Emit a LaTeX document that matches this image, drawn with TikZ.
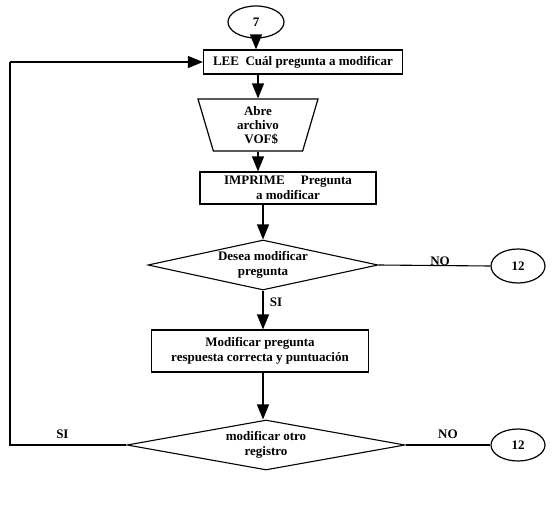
\documentclass[tikz,border=0pt]{standalone}
\usepackage{fontspec}
\setmainfont{Liberation Serif}
\usetikzlibrary{shapes,arrows.meta,positioning,calc}

\tikzset{
  flow/.style={line width=1.3pt,-{Triangle[length=15pt,width=12pt]}},
  link/.style={line width=1.1pt},
  conn/.style={ellipse,draw,line width=1.2pt,minimum width=56pt,minimum height=32pt,inner sep=0pt,font=\bfseries\fontsize{13}{15}\selectfont},
  proc/.style={rectangle,draw,line width=1.2pt,align=center,inner sep=2pt,font=\bfseries\fontsize{13}{14.5}\selectfont},
  decide/.style={diamond,draw,line width=1.1pt,aspect=4.6,inner sep=0pt,align=center,font=\bfseries\fontsize{13}{14.5}\selectfont},
  lbl/.style={font=\bfseries\fontsize{13}{15}\selectfont}
}

\begin{document}
\begin{tikzpicture}[x=1pt,y=-1pt]
      \useasboundingbox (0,0) rectangle (555,522);
      % start connector
      \node[conn] (c7) at (256,22) {7};
      \node[proc,minimum width=199pt,minimum height=24pt] (lee) at (303,62) {LEE\ \ Cuál pregunta a modificar};
      % file input
      \node[trapezium,draw,line width=1.2pt,trapezium stretches body,shape border rotate=180,
            trapezium angle=68,minimum width=120pt,minimum height=52pt,inner sep=0pt,
            align=center,font=\bfseries\fontsize{13}{14}\selectfont] (abre) at (258,125) {Abre\\archivo\\\ \ VOF\$};
      \node[proc,minimum width=176pt,minimum height=32pt] (imp) at (288,188) {IMPRIME\quad\ Pregunta\\a modificar};
      % first decision
      \node[decide,minimum width=230pt,minimum height=50pt] (d1) at (263,265) {Desea modificar\\pregunta};
      \node[conn,minimum width=54pt,minimum height=34pt] (c12a) at (518,266) {12};
      \node[proc,minimum width=217pt,minimum height=42pt] (mod) at (260,351) {Modificar pregunta\\respuesta correcta y puntuación};
      % second decision
      \node[decide,minimum width=278pt,minimum height=50pt] (d2) at (266,445) {modificar otro\\registro};
      \node[conn,minimum width=54pt,minimum height=32pt] (c12b) at (518,445) {12};
      \coordinate (bl) at (10,445);
      \coordinate (tl) at (10,62);
      % arrows down the main line
      \draw[flow] (c7.south) -- (c7.south |- lee.north);
      \draw[flow] (abre.north |- lee.south) -- (abre.north);
      \draw[flow] (abre.south) -- (abre.south |- imp.north);
      \draw[flow] (d1.north |- imp.south) -- (d1.north);
      \draw[flow] (d1.south) -- node[lbl,right=3pt,pos=0.3] {SI} (d1.south |- mod.north);
      \draw[flow] (d1.south |- mod.south) -- (d1.south |- d2.north);
      % NO branches
      \draw[link] (d1.east) -- node[lbl,above=-4pt,pos=0.55] {NO} (c12a.west);
      \draw[link] (d2.east) -- node[lbl,above=2pt,pos=0.5] {NO} (c12b.west);
      % SI loop back
      \draw[link] (d2.west) -- node[lbl,above=2pt,pos=0.55] {SI} (bl) -- (tl);
      \draw[flow] (tl) -- (lee.west);
    \end{tikzpicture}
\end{document}
